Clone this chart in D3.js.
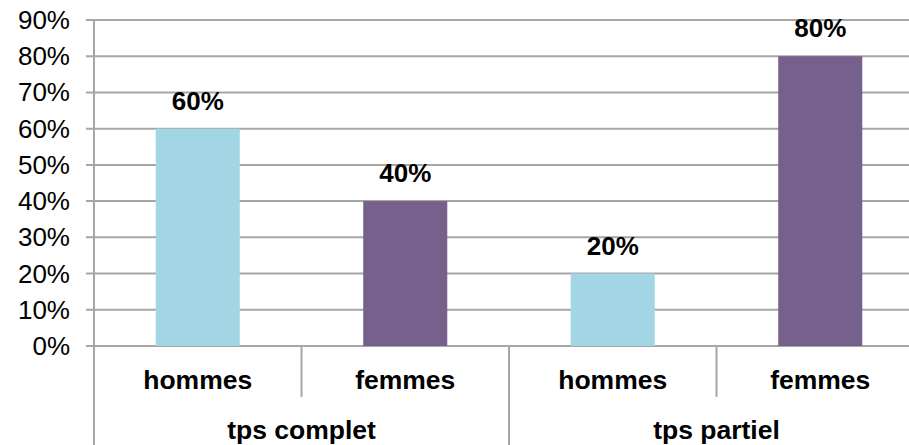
<!DOCTYPE html>
<html>
<head>
<meta charset="utf-8">
<script src="https://cdn.jsdelivr.net/npm/d3@7"></script>
<style>
  body { margin: 0; background: #fff; }
  text { font-family: "Liberation Sans", Arial, sans-serif; }
</style>
</head>
<body>
<svg id="chart" width="909" height="445"></svg>
<script>
const groups = ['tps complet', 'tps partiel'];
const sexes = ['hommes', 'femmes'];
const values = [0.60, 0.40, 0.20, 0.80];
const yTicks = [0, 0.1, 0.2, 0.3, 0.4, 0.5, 0.6, 0.7, 0.8, 0.9];
const barColors = { hommes: '#a3d6e5', femmes: '#76608c' };

const rows = [];
groups.forEach((g, gi) => sexes.forEach((s, si) => {
  rows.push({ key: g + '|' + s, group: g, sex: s, value: values[gi * 2 + si] });
}));

const svg = d3.select('#chart');
const margin = { top: 20, left: 94, right: 924, bottom: 346 };
const gridColor = '#a6a6a6';

const x = d3.scaleBand()
  .domain(rows.map(d => d.key))
  .range([margin.left, margin.right])
  .paddingInner(0.595)
  .paddingOuter(0.2975);
const step = x.step();

const y = d3.scaleLinear()
  .domain([0, 0.9])
  .range([margin.bottom, margin.top]);

// gridlines + ticks
svg.selectAll('line.grid')
  .data(yTicks)
  .enter()
  .append('line')
  .attr('class', 'grid')
  .attr('x1', margin.left - 8)
  .attr('x2', margin.right)
  .attr('y1', d => y(d))
  .attr('y2', d => y(d))
  .attr('stroke', gridColor)
  .attr('stroke-width', 2);

svg.selectAll('text.ytick')
  .data(yTicks)
  .enter()
  .append('text')
  .attr('class', 'ytick')
  .attr('x', 70)
  .attr('y', d => y(d) + 9)
  .attr('text-anchor', 'end')
  .attr('font-size', 26)
  .attr('fill', '#000')
  .text(d3.format('.0%'));

// bars
svg.selectAll('rect.bar')
  .data(rows)
  .enter()
  .append('rect')
  .attr('class', 'bar')
  .attr('x', d => x(d.key))
  .attr('y', d => y(d.value))
  .attr('width', x.bandwidth())
  .attr('height', d => y(0) - y(d.value))
  .attr('fill', d => barColors[d.sex]);

// value labels
svg.selectAll('text.val')
  .data(rows)
  .enter()
  .append('text')
  .attr('class', 'val')
  .attr('x', d => x(d.key) + x.bandwidth() / 2)
  .attr('y', d => y(d.value) - 19)
  .attr('text-anchor', 'middle')
  .attr('font-size', 26)
  .attr('font-weight', 'bold')
  .text(d => d3.format('.0%')(d.value));

// y axis line
svg.append('line')
  .attr('x1', margin.left).attr('x2', margin.left)
  .attr('y1', margin.top).attr('y2', 445)
  .attr('stroke', gridColor).attr('stroke-width', 2);

// category separators
rows.forEach((d, i) => {
  if (i === 0) return;
  const sx = x(d.key) - (step - x.bandwidth()) / 2;
  const outer = i % 2 === 0;
  svg.append('line')
    .attr('x1', sx).attr('x2', sx)
    .attr('y1', margin.bottom).attr('y2', outer ? 445 : 397)
    .attr('stroke', gridColor).attr('stroke-width', 2);
});

// inner labels
svg.selectAll('text.cat')
  .data(rows)
  .enter()
  .append('text')
  .attr('class', 'cat')
  .attr('x', d => x(d.key) + x.bandwidth() / 2)
  .attr('y', 389)
  .attr('text-anchor', 'middle')
  .attr('font-size', 26.5)
  .attr('font-weight', 'bold')
  .text(d => d.sex);

// outer labels
svg.selectAll('text.grp')
  .data(groups)
  .enter()
  .append('text')
  .attr('class', 'grp')
  .attr('x', g => {
    const a = x(g + '|' + sexes[0]);
    const b = x(g + '|' + sexes[1]) + x.bandwidth();
    return (a + b) / 2;
  })
  .attr('y', 439)
  .attr('text-anchor', 'middle')
  .attr('font-size', 26.5)
  .attr('font-weight', 'bold')
  .text(g => g);
</script>
</body>
</html>
